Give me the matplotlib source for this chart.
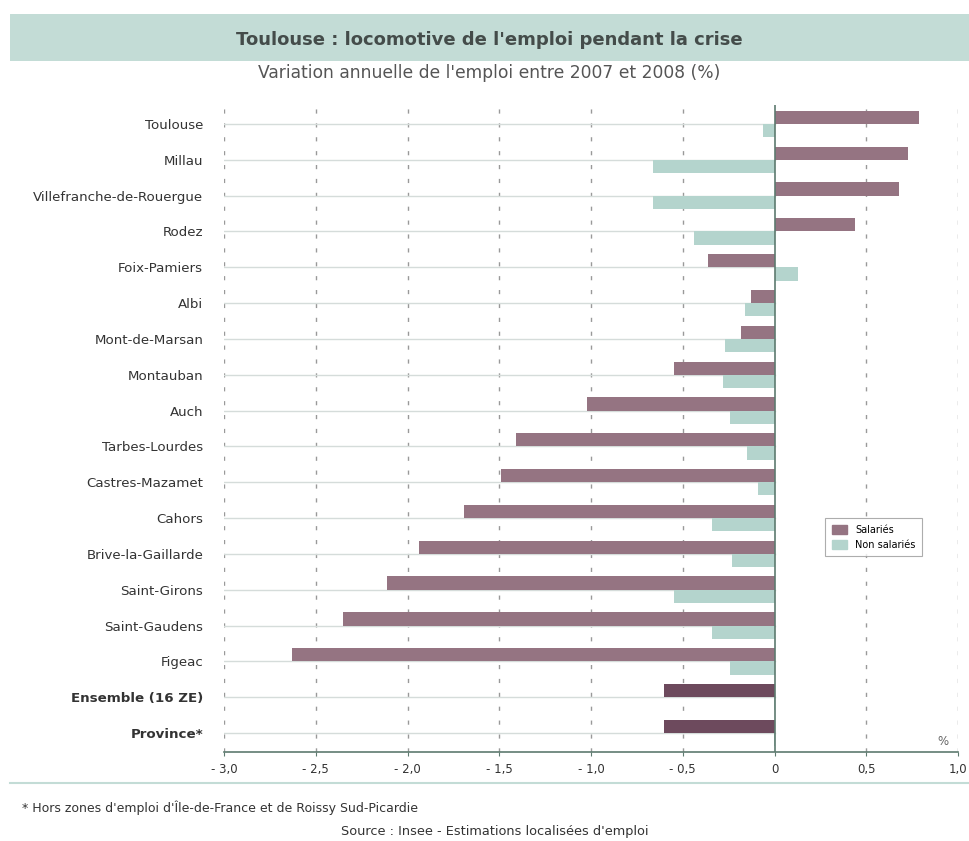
import matplotlib.pyplot as plt
import numpy as np
from matplotlib.patches import Rectangle, Patch
from matplotlib.lines import Line2D

zones = ["Toulouse", "Millau", "Villefranche-de-Rouergue", "Rodez", "Foix-Pamiers",
         "Albi", "Mont-de-Marsan", "Montauban", "Auch", "Tarbes-Lourdes",
         "Castres-Mazamet", "Cahors", "Brive-la-Gaillarde", "Saint-Girons",
         "Saint-Gaudens", "Figeac", "Ensemble (16 ZE)", "Province*"]
salaries = [0.79, 0.73, 0.68, 0.44, -0.36, -0.13, -0.18, -0.55, -1.02, -1.41,
            -1.49, -1.69, -1.94, -2.11, -2.35, -2.63, -0.60, -0.60]
non_salaries = [-0.06, -0.66, -0.66, -0.44, 0.13, -0.16, -0.27, -0.28, -0.24, -0.15,
                -0.09, -0.34, -0.23, -0.55, -0.34, -0.24, -0.005, -0.005]
xticks = [-3.0, -2.5, -2.0, -1.5, -1.0, -0.5, 0, 0.5, 1.0]
xticklabels = ["- 3,0", "- 2,5", "- 2,0", "- 1,5", "- 1,0", "- 0,5", "0", "0,5", "1,0"]

c_sal = "#957482"
c_sal_dark = "#6d4a5d"
c_non = "#b4d4cd"
txt = "#333333"

fig = plt.figure(figsize=(9.69, 8.41), dpi=100)

# bandeau du titre
band = fig.add_axes([10 / 969, 1 - 61 / 841, 959 / 969, 47 / 841])
band.add_patch(Rectangle((0, 0), 1, 1, transform=band.transAxes, color="#c3dcd6"))
band.set_axis_off()
fig.text(0.505, 1 - 40 / 841, "Toulouse : locomotive de l'emploi pendant la crise",
         ha="center", va="center", fontsize=13, fontweight="bold", color="#444c4a")
fig.text(0.505, 1 - 73 / 841, "Variation annuelle de l'emploi entre 2007 et 2008 (%)",
         ha="center", va="center", fontsize=12.3, color="#555555")

ax = fig.add_axes([224 / 969, 89 / 841, 734 / 969, 647 / 841])
y = np.arange(len(zones))
h = 0.37
sal_colors = [c_sal] * 16 + [c_sal_dark] * 2
ax.barh(y - h / 2, salaries, height=h, color=sal_colors, zorder=3)
ax.barh(y + h / 2, non_salaries, height=h, color=c_non, zorder=3)

for yi in y:
    ax.plot([-3, 0], [yi, yi], color="#d5dcda", lw=1, zorder=1)
for xt in xticks:
    if xt != 0:
        ax.axvline(xt, color="#999999", lw=1, ls=(0, (3, 7)), zorder=0)
ax.axvline(0, color="#5d7a6f", lw=1.2, zorder=4)

ax.set_xlim(-3, 1)
ax.set_ylim(len(zones) - 0.47, -0.53)
ax.set_xticks(xticks)
ax.set_xticklabels(xticklabels, fontsize=8.5, color=txt)
ax.set_yticks(y)
ax.set_yticklabels(zones, fontsize=9.6, color=txt)
for lab in ax.get_yticklabels()[-2:]:
    lab.set_fontweight("bold")
ax.tick_params(axis="y", length=0, pad=15)
ax.tick_params(axis="x", length=3, color="#5d7a6f", pad=5)
for s in ["top", "right", "left"]:
    ax.spines[s].set_visible(False)
ax.spines["bottom"].set_color("#5d7a6f")
ax.spines["bottom"].set_linewidth(1.2)
ax.text(0.92, len(zones) - 0.75, "%", fontsize=8.5, color="#666666", ha="center", va="center")

leg = ax.legend(handles=[Patch(color=c_sal, label="Salariés"),
                         Patch(color=c_non, label="Non salariés")],
                loc="upper left", bbox_to_anchor=(596 / 734, 1 - (513 - 105) / 647),
                fontsize=7, frameon=True, fancybox=False, edgecolor="#999999",
                handlelength=1.6, handleheight=1.1, borderpad=0.7)
leg.get_frame().set_linewidth(0.8)

fig.add_artist(Line2D([10 / 969, 1], [1 - 783 / 841] * 2, color="#c3dcd6", lw=1.5))
fig.text(22 / 969, 1 - 808 / 841,
         "* Hors zones d'emploi d'Île-de-France et de Roissy Sud-Picardie",
         fontsize=9, color=txt, va="center")
fig.text(495 / 969, 1 - 832 / 841, "Source : Insee - Estimations localisées d'emploi",
         fontsize=9.3, color=txt, va="center", ha="center")

fig.savefig("out.png", dpi=100)
